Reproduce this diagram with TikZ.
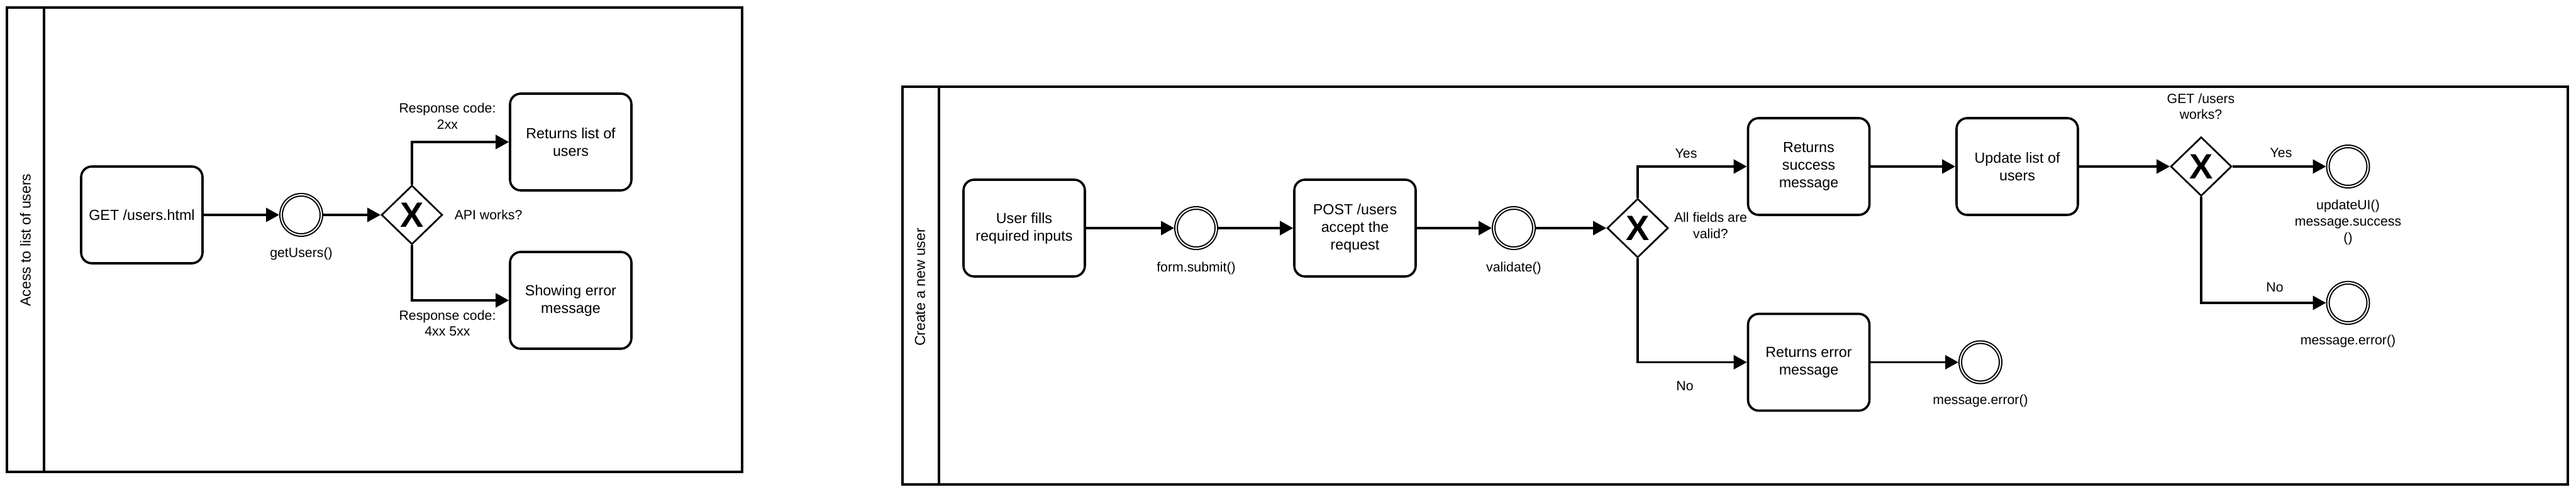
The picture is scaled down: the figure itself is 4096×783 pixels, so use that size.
\documentclass[tikz,border=0pt]{standalone}
\usepackage{fontspec}
\setmainfont{Liberation Sans}
\usepackage{tikz}
\usetikzlibrary{arrows.meta}
\usetikzlibrary{shapes.geometric}

\begin{document}
\begin{tikzpicture}[x=1pt,y=-1pt,
  pool/.style={draw, line width=4pt},
  task/.style={draw, line width=3.6pt, rounded corners=17pt, minimum width=193pt, minimum height=154pt, align=center, inner sep=0pt, font=\fontsize{23.3}{28}\selectfont},
  event/.style={circle, draw, line width=2pt, double, double distance=2pt, minimum size=64pt, inner sep=0pt, outer sep=3pt},
  gate/.style={diamond, draw, line width=2.7pt, minimum width=97pt, minimum height=94pt, inner sep=0pt, font=\fontsize{56}{56}\selectfont\bfseries},
  note/.style={align=center, inner sep=0pt, font=\fontsize{21.3}{25.6}\selectfont},
  flow/.style={line width=3.9pt, -{Triangle[length=21pt,width=22pt]}}]
\useasboundingbox (0,0) rectangle (4096,783);
%lane 1
\draw[pool] (11,12) rectangle (1180,751);
\draw[pool] (70,12) -- (70,751);
\node[rotate=90, inner sep=0pt, font=\fontsize{23}{28}\selectfont] (title1) at (40.5,382) {Acess to list of users};
\node[task] (get) at (225.5,342) {GET /users.html};
\node[event] (getusers) at (479,342) {};
\node[gate] (api) at (655,342) {X};
\node[task] (list) at (907.5,226) {Returns list of\\users};
\node[task] (showerr) at (907.5,478) {Showing error\\message};
\node[note] (getuserslbl) at (479,404) {getUsers()};
\node[note] (apilbl) at (776.6,342) {API works?};
\node[note] (oklbl) at (711.5,185) {Response code:\\2xx};
\node[note] (faillbl) at (711.5,514.5) {Response code:\\4xx 5xx};
\draw[flow] (get) -- (getusers);
\draw[flow] (getusers) -- (api);
\draw[flow] (api.north) |- (list);
\draw[flow] (api.south) |- (showerr);
%lane 2
\draw[pool] (1435,138.5) rectangle (4083,771);
\draw[pool] (1492.5,138.5) -- (1492.5,771);
\node[rotate=90, inner sep=0pt, font=\fontsize{23}{28}\selectfont] (title2) at (1463,457) {Create a new user};
\node[task] (fill) at (1628.5,363) {User fills\\required inputs};
\node[event] (submit) at (1902,363) {};
\node[task] (post) at (2154.5,363) {POST /users\\accept the\\request};
\node[event] (validate) at (2407,363) {};
\node[gate] (valid) at (2604,363) {X};
\node[task] (success) at (2876,265) {Returns\\success\\message};
\node[task] (update) at (3207.5,265) {Update list of\\users};
\node[gate] (works) at (3500,265) {X};
\node[event] (updateui) at (3733.5,265) {};
\node[event] (errmsgb) at (3733.5,482) {};
\node[task] (errbox) at (2876,576.5) {Returns error\\message};
\node[event] (errmsga) at (3149,576.5) {};
\node[note] (submitlbl) at (1902,427) {form.submit()};
\node[note] (validatelbl) at (2407,427) {validate()};
\node[note] (yesa) at (2681,244) {Yes};
\node[note] (noa) at (2679,614) {No};
\node[note] (validlbl) at (2720,359) {All fields are\\valid?};
\node[note] (workslbl) at (3499.5,169.5) {GET /users\\works?};
\node[note] (yesb) at (3627,243) {Yes};
\node[note] (updateuilbl) at (3733.5,354) {updateUI()\\message.success\\()};
\node[note] (nob) at (3617,457) {No};
\node[note] (errmsgblbl) at (3733.5,543) {message.error()};
\node[note] (errmsgalbl) at (3149,638) {message.error()};
\draw[flow] (fill) -- (submit);
\draw[flow] (submit) -- (post);
\draw[flow] (post) -- (validate);
\draw[flow] (validate) -- (valid);
\draw[flow] (valid.north) |- (success);
\draw[flow] (valid.south) |- (errbox);
\draw[flow] (success) -- (update);
\draw[flow] (update) -- (works);
\draw[flow] (works) -- (updateui);
\draw[flow] (works.south) |- (errmsgb);
\draw[flow] (errbox) -- (errmsga);
\end{tikzpicture}
\end{document}
